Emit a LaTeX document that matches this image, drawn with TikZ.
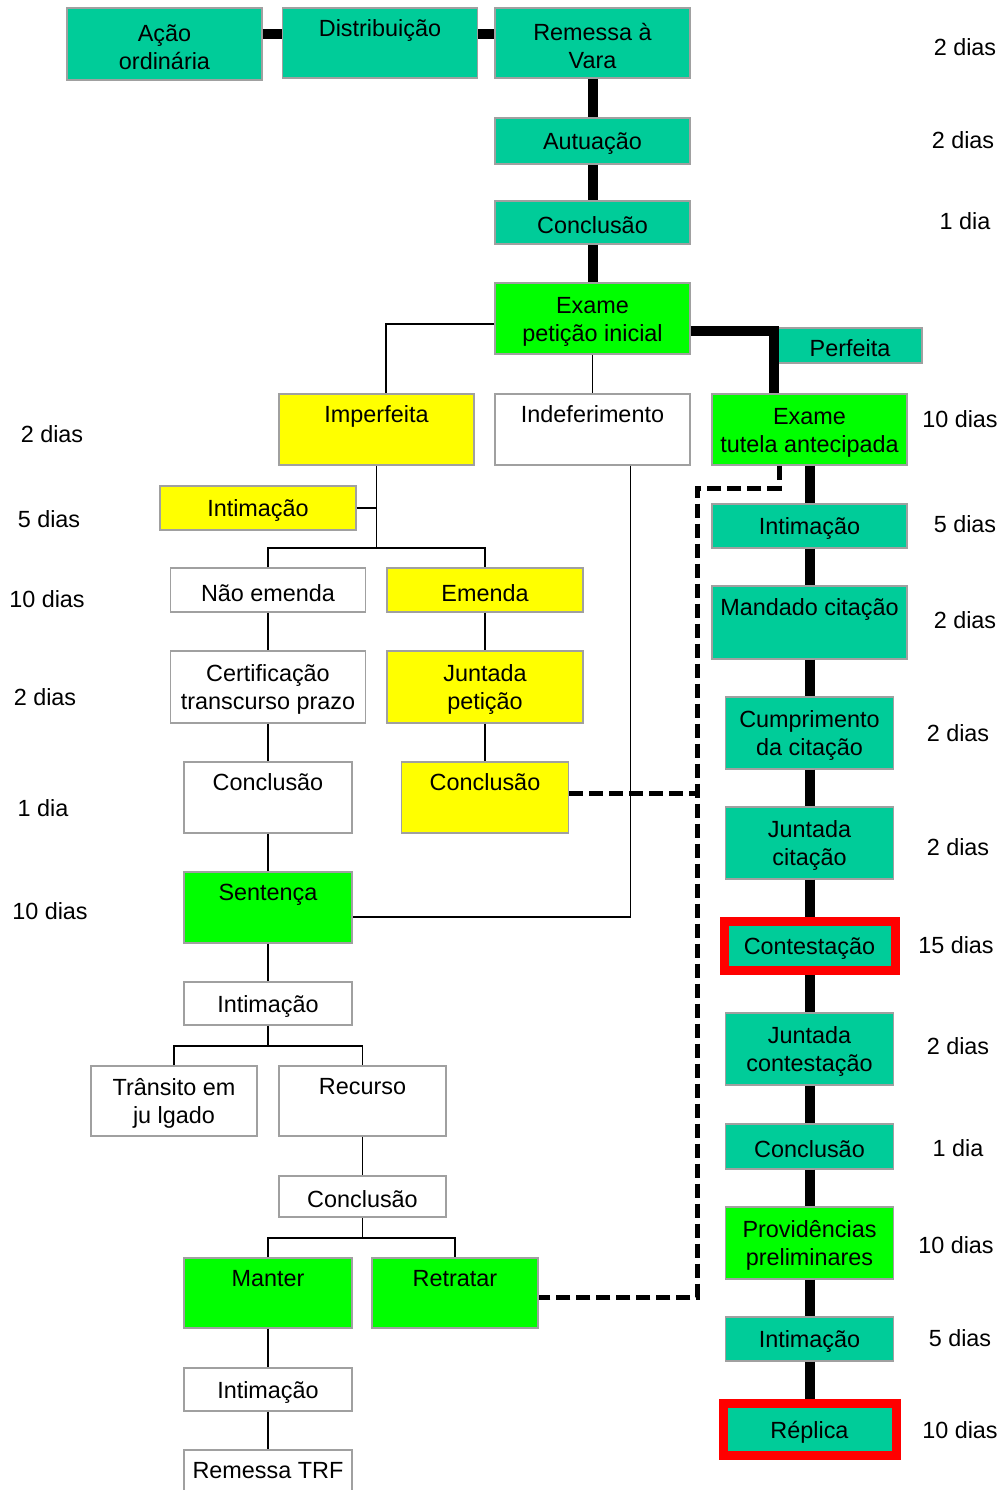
\documentclass[tikz,border=0pt]{standalone}
\usepackage{fontspec}
\setmainfont{Liberation Sans}
\usepackage{tikz}

\definecolor{corAgua}{RGB}{0,204,153}
\definecolor{corVerde}{RGB}{0,255,0}
\definecolor{corAmarela}{RGB}{255,255,0}
\definecolor{corBorda}{RGB}{160,160,160}
\definecolor{corVermelha}{RGB}{255,0,0}

\begin{document}
\begin{tikzpicture}[x=0.5pt,y=-0.5pt,
  every node/.style={font=\fontsize{11.7}{14}\selectfont},
  caixa/.style={draw=corBorda,line width=0.6pt,align=center,inner sep=2pt,text height=11.4pt},
  duas/.style={text height=25.4pt},
  tam/.style 2 args={minimum width=#1*0.5pt,minimum height=#2*0.5pt},
  agua/.style={fill=corAgua},
  verde/.style={fill=corVerde},
  amarela/.style={fill=corAmarela},
  branca/.style={fill=white},
  destaque/.style={draw=corVermelha,line width=4.5pt,fill=corAgua,align=center,text height=11.4pt},
  grossa/.style={line width=5pt},
  fina/.style={line width=0.9pt},
  tracejada/.style={line width=2.5pt,dash pattern=on 7pt off 3pt}]
  \useasboundingbox (0,0) rectangle (1006,1490);

  % coluna central e topo
  \node[caixa,duas,agua,tam={195}{72}] (acao) at (164.5,44) {Ação\\ordinária};
  \node[caixa,duas,agua,tam={195}{70}] (distrib) at (380,43) {Distribuição\\\strut};
  \node[caixa,duas,agua,tam={195}{70}] (remessa) at (592.5,43) {Remessa à\\Vara};
  \node[caixa,agua,tam={195}{46}] (autuacao) at (592.5,141) {Autuação};
  \node[caixa,agua,tam={195}{43}] (conclA) at (592.5,222.5) {Conclusão};
  \node[caixa,duas,verde,tam={195}{71}] (examePI) at (592.5,318.5) {Exame\\petição inicial};
  \node[caixa,agua,tam={144}{35}] (perfeita) at (850,345.5) {Perfeita};
  \node[caixa,duas,amarela,tam={195}{71}] (imperf) at (376.5,429.5) {Imperfeita\\\strut};
  \node[caixa,duas,branca,tam={195}{71}] (indef) at (592.5,429.5) {Indeferimento\\\strut};
  \node[caixa,duas,verde,tam={195}{71}] (exameTA) at (809.5,429.5) {Exame\\tutela antecipada};

  % ramo da emenda
  \node[caixa,amarela,tam={196}{44}] (intimY) at (258,508) {Intimação};
  \node[caixa,branca,tam={195}{44}] (naoEm) at (268,590) {Não emenda};
  \node[caixa,amarela,tam={196}{44}] (emenda) at (485,590) {Emenda};
  \node[caixa,duas,branca,tam={195}{72}] (certif) at (268,687) {Certificação\\transcurso prazo};
  \node[caixa,duas,amarela,tam={196}{72}] (juntPet) at (485,687) {Juntada\\petição};
  \node[caixa,duas,branca,tam={168}{71}] (conclW) at (268,797.5) {Conclusão\\\strut};
  \node[caixa,duas,amarela,tam={167}{71}] (conclY) at (485,797.5) {Conclusão\\\strut};
  \node[caixa,duas,verde,tam={168}{71}] (sentenca) at (268,907.5) {Sentença\\\strut};
  \node[caixa,branca,tam={168}{43}] (intimW) at (268,1003.5) {Intimação};
  \node[caixa,duas,branca,tam={166}{70}] (transito) at (174,1101) {Trânsito em\\ju lgado};
  \node[caixa,duas,branca,tam={167}{70}] (recurso) at (362.5,1101) {Recurso\\\strut};
  \node[caixa,branca,tam={167}{41}] (conclR) at (362.5,1196.5) {Conclusão};
  \node[caixa,duas,verde,tam={168}{70}] (manter) at (268,1293) {Manter\\\strut};
  \node[caixa,duas,verde,tam={166}{70}] (retratar) at (455,1293) {Retratar\\\strut};
  \node[caixa,branca,tam={168}{43}] (intimM) at (268,1389.5) {Intimação};
  \node[caixa,duas,branca,tam={168}{71}] (remTRF) at (268,1485.5) {Remessa TRF\\\strut};

  % coluna da direita
  \node[caixa,agua,tam={195}{44}] (intimT) at (809.5,526) {Intimação};
  \node[caixa,duas,agua,tam={195}{73}] (mandado) at (809.5,622.5) {Mandado citação\\\strut};
  \node[caixa,duas,agua,tam={168}{72}] (cumpr) at (809.5,733) {Cumprimento\\da citação};
  \node[caixa,duas,agua,tam={168}{72}] (juntCit) at (809.5,843) {Juntada\\citação};
  \node[destaque,tam={171}{49}] (contest) at (809.5,946) {Contestação};
  \node[caixa,duas,agua,tam={168}{72}] (juntCont) at (809.5,1049) {Juntada\\contestação};
  \node[caixa,agua,tam={168}{45}] (conclT) at (809.5,1146.5) {Conclusão};
  \node[caixa,duas,verde,tam={168}{72}] (provid) at (809.5,1243) {Providências\\preliminares};
  \node[caixa,agua,tam={168}{44}] (intimT2) at (809.5,1339) {Intimação};
  \node[destaque,tam={173}{52}] (replica) at (809.5,1429.5) {Réplica};

  % prazos
  \foreach \nome/\x/\y/\t in {pe1/52/434/2 dias,pe2/49/519/5 dias,pe3/47/599/10 dias,
      pe4/45/697/2 dias,pe5/43/808/1 dia,pe6/50/911/10 dias}
    \node (\nome) at (\x,\y) {\t};
  \foreach \nome/\x/\y/\t in {pd1/965/47/2 dias,pd2/963/140/2 dias,pd3/965/221/1 dia,
      pd4/960/419/10 dias,pd5/965/524/5 dias,pd6/965/620/2 dias,pd7/958/733/2 dias,
      pd8/958/847/2 dias,pd9/956/945/15 dias,pd10/958/1046/2 dias,pd11/958/1148/1 dia,
      pd12/956/1245/10 dias,pd13/960/1338/5 dias,pd14/960/1430/10 dias}
    \node (\nome) at (\x,\y) {\t};

  % ligacoes grossas
  \coordinate (topo) at (0,34);
  \draw[grossa] (acao.east |- topo) -- (distrib.west |- topo);
  \draw[grossa] (distrib.east |- topo) -- (remessa.west |- topo);
  \foreach \a/\b in {remessa/autuacao,autuacao/conclA,conclA/examePI,
      exameTA/intimT,intimT/mandado,mandado/cumpr,cumpr/juntCit,juntCit/contest,
      contest/juntCont,juntCont/conclT,conclT/provid,provid/intimT2,intimT2/replica}
    \draw[grossa] (\a.south) -- (\b.north);
  \draw[grossa] ([yshift=-6pt]examePI.east) -| ([xshift=-18pt]exameTA.north);

  % ligacoes finas
  \coordinate (nA) at (376.5,548);
  \coordinate (nB) at (268,1046);
  \coordinate (nC) at (362.5,1238);
  \draw[fina] ([yshift=-2.75pt]examePI.west) -| ([xshift=4.75pt]imperf.north);
  \draw[fina] (examePI.south) -- (indef.north);
  \draw[fina] ([xshift=19pt]indef.south) |- ([yshift=-4.75pt]sentenca.east);
  \draw[fina] (imperf.south) -- (nA);
  \draw[fina] (intimY.east) -- (intimY.east -| nA);
  \draw[fina] (naoEm.north) |- (nA) -| (emenda.north);
  \foreach \a/\b in {naoEm/certif,certif/conclW,conclW/sentenca,sentenca/intimW,
      emenda/juntPet,juntPet/conclY,recurso/conclR,manter/intimM,intimM/remTRF}
    \draw[fina] (\a.south) -- (\b.north);
  \draw[fina] (intimW.south) -- (nB);
  \draw[fina] (transito.north) |- (nB) -| (recurso.north);
  \draw[fina] (conclR.south) -- (nC);
  \draw[fina] (manter.north) |- (nC) -| (retratar.north);

  % ligacoes tracejadas
  \coordinate (tA) at (697,488);
  \coordinate (tB) at (697,1297);
  \draw[tracejada] ([xshift=-15.25pt]exameTA.south) |- (tA) -- (tB) -- (tB -| retratar.east);
  \draw[tracejada] ([yshift=2.25pt]conclY.east) -- ([yshift=2.25pt]conclY.east -| tA);
\end{tikzpicture}
\end{document}
